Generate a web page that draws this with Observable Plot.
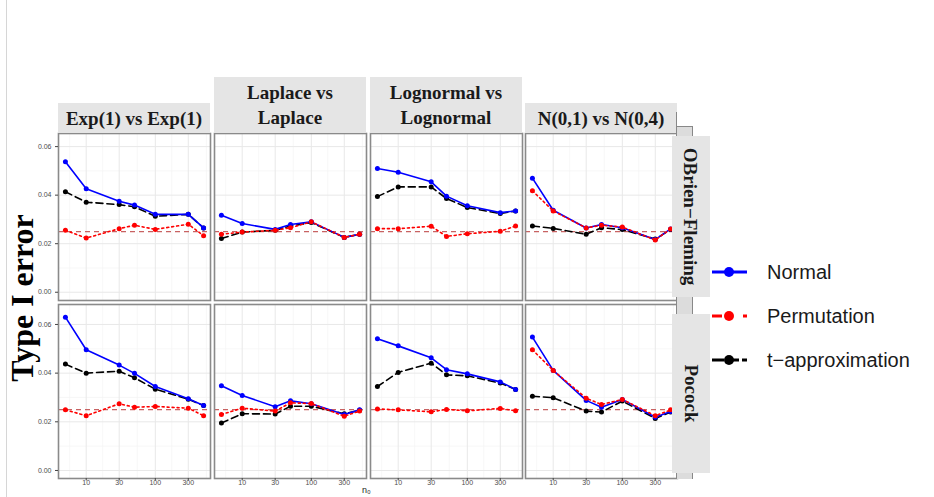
<!DOCTYPE html>
<html><head><meta charset="utf-8">
<script src="https://cdn.jsdelivr.net/npm/d3@7"></script>
<script src="https://cdn.jsdelivr.net/npm/@observablehq/plot@0.6"></script>
<style>
body{margin:0;background:#fff;}
#chart{position:relative;width:934px;height:497px;overflow:hidden;background:#fff;}
.strip{position:absolute;background:#e5e5e5;font-family:"Liberation Serif","Times New Roman",serif;font-weight:bold;color:#1a1a1a;display:flex;align-items:center;justify-content:center;text-align:center;font-size:19px;line-height:25px;white-space:pre;}
.rot{transform:rotate(90deg);white-space:nowrap;}
</style></head><body><div id="chart"></div>
<script>
// ---------- data ----------
const n0 = [5, 10, 30, 50, 100, 300, 500];
const distributions = ["Exp(1) vs Exp(1)", "Laplace vs\nLaplace", "Lognormal vs\nLognormal", "N(0,1) vs N(0,4)"];
const designs = ["OBrien\u2212Fleming", "Pocock"];
const methods = ["Normal", "Permutation", "t\u2212approximation"];
const nominal = 0.025;
const xTicks = [10, 30, 100, 300];
const xMinor = [5.77, 17.3, 54.8, 173, 548];
const yTicks = [0, 0.02, 0.04, 0.06];
const yMinor = [0.01, 0.03, 0.05];

// O'Brien-Fleming: one row per distribution
const obfNormal = [
  [0.0538, 0.0426, 0.0375, 0.0359, 0.0321, 0.0321, 0.0265],
  [0.0317, 0.0283, 0.0259, 0.0279, 0.0290, 0.0226, 0.0239],
  [0.0510, 0.0494, 0.0455, 0.0396, 0.0356, 0.0328, 0.0335],
  [0.0470, 0.0338, 0.0265, 0.0279, 0.0266, 0.0217, 0.0261]];
const obfPermutation = [
  [0.0255, 0.0223, 0.0262, 0.0276, 0.0259, 0.0280, 0.0233],
  [0.0239, 0.0248, 0.0255, 0.0266, 0.0290, 0.0226, 0.0239],
  [0.0262, 0.0262, 0.0272, 0.0230, 0.0241, 0.0251, 0.0273],
  [0.0418, 0.0335, 0.0265, 0.0276, 0.0269, 0.0215, 0.0261]];
const obfT = [
  [0.0414, 0.0371, 0.0361, 0.0352, 0.0313, 0.0321, 0.0265],
  [0.0221, 0.0248, 0.0255, 0.0273, 0.0287, 0.0226, 0.0239],
  [0.0394, 0.0434, 0.0434, 0.0386, 0.0349, 0.0324, 0.0335],
  [0.0273, 0.0263, 0.0239, 0.0266, 0.0258, 0.0219, 0.0258]];
// Pocock
const pocNormal = [
  [0.0630, 0.0496, 0.0433, 0.0399, 0.0345, 0.0295, 0.0267],
  [0.0348, 0.0308, 0.0262, 0.0286, 0.0274, 0.0230, 0.0249],
  [0.0541, 0.0512, 0.0463, 0.0414, 0.0397, 0.0364, 0.0333],
  [0.0548, 0.0411, 0.0288, 0.0260, 0.0292, 0.0219, 0.0242]];
const pocPermutation = [
  [0.0249, 0.0225, 0.0274, 0.0260, 0.0263, 0.0256, 0.0225],
  [0.0230, 0.0256, 0.0244, 0.0278, 0.0275, 0.0223, 0.0244],
  [0.0253, 0.0249, 0.0241, 0.0251, 0.0245, 0.0255, 0.0245],
  [0.0496, 0.0411, 0.0297, 0.0271, 0.0292, 0.0225, 0.0249]];
const pocT = [
  [0.0437, 0.0400, 0.0408, 0.0381, 0.0334, 0.0293, 0.0267],
  [0.0195, 0.0233, 0.0232, 0.0264, 0.0264, 0.0233, 0.0247],
  [0.0345, 0.0403, 0.0441, 0.0393, 0.0389, 0.0359, 0.0333],
  [0.0305, 0.0299, 0.0244, 0.0240, 0.0285, 0.0214, 0.0240]];

// ---------- styles / layout ----------
const values = [[obfNormal, obfPermutation, obfT], [pocNormal, pocPermutation, pocT]];
const colors = ["#0000ff", "#ff0000", "#000000"];
const dashes = [null, "2,3", "7,4"];
const legendDash = [null, "10,21", "12,3"];
const drawOrder = [2, 0, 1];
const colLeft = [58, 214, 370, 525], panelW = 152;
const rowTop = [133, 304], rowH = [167, 174];
const yDomains = [[-0.0034, 0.0654], [-0.0033, 0.0682]];
const xDomain = [5 / Math.pow(10, 0.1), 500 * Math.pow(10, 0.1)];

const chart = document.getElementById("chart");
function addDiv(css, text) {
  const d = document.createElement("div");
  d.style.cssText = css;
  if (text !== undefined) d.textContent = text;
  chart.appendChild(d);
  return d;
}
addDiv("position:absolute;left:6px;top:0;width:1px;height:497px;background:#d6d6d6;");

for (let r = 0; r < 2; r++) {
  for (let c = 0; c < 4; c++) {
    const ml = c === 0 ? 40 : 4, mr = 4, mt = 4, mb = r === 1 ? 24 : 4;
    const marks = [
      Plot.ruleX(xMinor, {stroke: "#f3f3f3", strokeWidth: 0.7}),
      Plot.ruleY(yMinor, {stroke: "#f3f3f3", strokeWidth: 0.7}),
      Plot.ruleX(xTicks, {stroke: "#e8e8e8", strokeWidth: 1}),
      Plot.ruleY(yTicks, {stroke: "#e8e8e8", strokeWidth: 1}),
      Plot.ruleY([nominal], {stroke: "#c86262", strokeWidth: 1.2, strokeDasharray: "5,4"})
    ];
    for (const k of drawOrder) {
      const data = n0.map((n, i) => ({n, v: values[r][k][c][i]}));
      marks.push(Plot.line(data, {x: "n", y: "v", stroke: colors[k], strokeWidth: 1.6, strokeDasharray: dashes[k]}));
      marks.push(Plot.dot(data, {x: "n", y: "v", r: 2.5, fill: colors[k], stroke: "none"}));
    }
    marks.push(Plot.frame({stroke: "#8a8a8a", strokeWidth: 1.6}));
    if (c === 0) marks.push(Plot.axisY(yTicks, {tickFormat: d3.format(".2f"), tickSize: 3, tickPadding: 4, fontSize: 7, color: "#4d4d4d", stroke: "#444", label: null}));
    if (r === 1) {
      marks.push(Plot.axisX(xTicks, {tickSize: 2.5, stroke: "#444", fill: "none", fillOpacity: 0, label: null}));
      marks.push(Plot.text(xTicks, {x: d => d, text: d => String(d), frameAnchor: "bottom", dy: 6.5, fontSize: 7, fill: "#4d4d4d"}));
    }
    const svg = Plot.plot({
      width: panelW + ml + mr, height: rowH[r] + mt + mb,
      marginLeft: ml, marginRight: mr, marginTop: mt, marginBottom: mb,
      style: {background: "transparent", overflow: "visible", fontFamily: "'Liberation Sans', Arial, sans-serif"},
      x: {type: "log", domain: xDomain, axis: null},
      y: {domain: yDomains[r], axis: null},
      marks
    });
    svg.style.position = "absolute";
    svg.style.left = (colLeft[c] - ml) + "px";
    svg.style.top = (rowTop[r] - mt) + "px";
    svg.style.maxWidth = "none";
    chart.appendChild(svg);
  }
}

// column strips
distributions.forEach((name, c) => {
  const two = name.includes("\n");
  const top = two ? 77 : 103;
  addDiv(`left:${colLeft[c]}px;top:${top}px;width:${panelW}px;height:${133 - top}px;`, name).className = "strip";
});
// box behind row strips
addDiv("position:absolute;left:676px;top:112px;width:1px;height:14px;background:#888;");
addDiv("position:absolute;left:676px;top:126px;width:15px;height:352px;background:#dcdcdc;border:1px solid #888;border-bottom:none;");
// row strips
const rowStripTop = [136, 314], rowStripH = [161, 159];
designs.forEach((name, r) => {
  const d = addDiv(`left:672px;top:${rowStripTop[r]}px;width:38px;height:${rowStripH[r]}px;`);
  d.className = "strip";
  const s = document.createElement("span");
  s.className = "rot";
  s.textContent = name;
  d.appendChild(s);
});

// axis titles
addDiv("position:absolute;left:-78px;top:278px;width:200px;height:40px;line-height:40px;text-align:center;transform:rotate(-90deg);font-family:'Liberation Serif','Times New Roman',serif;font-weight:bold;font-size:32px;color:#000;white-space:nowrap;", "Type I error");
addDiv("position:absolute;left:362px;top:485px;font-family:'Liberation Sans',Arial,sans-serif;font-size:9px;color:#222;", "n\u2080");

// legend
const legend = d3.create("svg").attr("width", 234).attr("height", 130)
  .style("position", "absolute").style("left", "700px").style("top", "250px").style("overflow", "visible");
methods.forEach((m, k) => {
  const g = legend.append("g").attr("transform", `translate(0,${22 + 44 * k})`);
  const ln = g.append("line").attr("x1", 12).attr("x2", 47).attr("stroke", colors[k]).attr("stroke-width", 3);
  if (legendDash[k]) ln.attr("stroke-dasharray", legendDash[k]);
  g.append("circle").attr("cx", 29).attr("r", 5).attr("fill", colors[k]);
  g.append("text").attr("x", 67).attr("dy", "0.36em").attr("fill", "#1a1a1a")
    .style("font", "20px 'Liberation Sans', Arial, sans-serif").text(m);
});
chart.appendChild(legend.node());
</script></body></html>
